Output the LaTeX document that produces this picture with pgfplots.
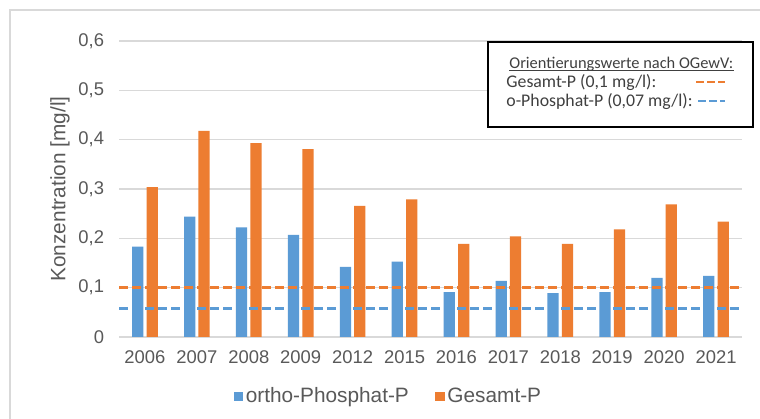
\documentclass[border=0pt]{standalone}
\usepackage{pgfplots}
\pgfplotsset{compat=1.18}
\usepackage{fontspec}
\setmainfont{Liberation Sans}
\newfontfamily\calibri{Carlito}
\definecolor{cblue}{HTML}{5B9BD5}
\definecolor{corange}{HTML}{ED7D31}
\definecolor{tgray}{HTML}{595959}
\definecolor{ggray}{HTML}{D9D9D9}
\definecolor{boxtext}{HTML}{404040}
\begin{document}
\begin{tikzpicture}
\path[use as bounding box, fill=white] (0,0) rectangle (380bp,209.5bp);
\draw[ggray, line width=0.75bp] (5bp,0) -- (5bp,204.5bp) -- (380bp,204.5bp);
\begin{axis}[
  at={(59.5bp,41bp)}, anchor=south west, scale only axis,
  width=311.5bp, height=148bp,
  xmin=-0.5, xmax=11.5, ymin=0, ymax=0.6,
  xtick={0,...,11},
  xticklabels={2006,2007,2008,2009,2012,2015,2016,2017,2018,2019,2020,2021},
  ytick={0,0.1,0.2,0.3,0.4,0.5,0.6},
  /pgf/number format/.cd, use comma, fixed, precision=1, assume math mode=true,
  /pgfplots/.cd,
  axis line style={draw=none},
  tick style={draw=none},
  ymajorgrids, grid style={ggray, line width=0.75bp},
  every tick label/.append style={inner sep=0pt, outer sep=0pt, text=tgray, font=\fontsize{9.2bp}{11bp}\selectfont},
  yticklabel shift=7.5bp,
  xticklabel shift=7bp,
  ylabel={Konzentration [mg/l]},
  ylabel style={at={(axis description cs:-0.0947,0.5)}, anchor=center, inner sep=0pt, text=tgray, font=\fontsize{10.4bp}{12bp}\selectfont},
  legend columns=2,
  legend style={at={(0.433,-0.201)}, anchor=center, draw=none, fill=none,
    font=\fontsize{10.4bp}{12bp}\selectfont, text=tgray,
    nodes={inner sep=1.3bp},
    /tikz/every even column/.append style={column sep=12bp},
    inner sep=0pt},
  legend cell align=left,
]
\addplot[ybar, bar width=5.6bp, bar shift=-3.6bp, fill=cblue, draw=none,
  legend image code/.code={\fill (0bp,-2.35bp) rectangle (4.7bp,2.35bp);}]
  coordinates {(0,0.183) (1,0.244) (2,0.222) (3,0.207) (4,0.142) (5,0.153)
               (6,0.091) (7,0.114) (8,0.089) (9,0.091) (10,0.120) (11,0.124)};
\addlegendentry{ortho-Phosphat-P}
\addplot[ybar, bar width=5.6bp, bar shift=3.6bp, fill=corange, draw=none,
  legend image code/.code={\fill (0bp,-2.35bp) rectangle (4.7bp,2.35bp);}]
  coordinates {(0,0.304) (1,0.418) (2,0.393) (3,0.381) (4,0.266) (5,0.279)
               (6,0.189) (7,0.204) (8,0.189) (9,0.218) (10,0.269) (11,0.234)};
\addlegendentry{Gesamt-P}
\addplot[corange, line width=1.25bp, dash pattern=on 4.5bp off 2bp, forget plot]
  coordinates {(-0.5,0.1) (11.6,0.1)};
\addplot[cblue, line width=1.25bp, dash pattern=on 4.5bp off 2bp, forget plot]
  coordinates {(-0.5,0.058) (11.5,0.058)};
\end{axis}
\draw[black, line width=1bp, fill=white] (244bp,146bp) rectangle (376.5bp,188.5bp);
\begin{scope}[every node/.style={inner sep=0pt, anchor=base west, text=boxtext, font=\calibri\fontsize{8.9bp}{10bp}\selectfont}]
\node[font=\calibri\fontsize{8.2bp}{10bp}\selectfont] (t1) at (254.5bp,175.3bp) {Orientierungswerte nach OGewV:};
\node at (253bp,165.8bp) {Gesamt-P (0,1 mg/l):};
\node at (253bp,156.3bp) {o-Phosphat-P (0,07 mg/l):};
\end{scope}
\draw[boxtext, line width=0.45bp] ([yshift=-1bp]t1.base west) -- ([yshift=-1bp]t1.base east);
\draw[corange, line width=1.25bp, dash pattern=on 4bp off 1.5bp] (348bp,168.6bp) -- (362.5bp,168.6bp);
\draw[cblue, line width=1.25bp, dash pattern=on 4bp off 1.5bp] (349bp,159bp) -- (362.5bp,159bp);
\end{tikzpicture}
\end{document}
